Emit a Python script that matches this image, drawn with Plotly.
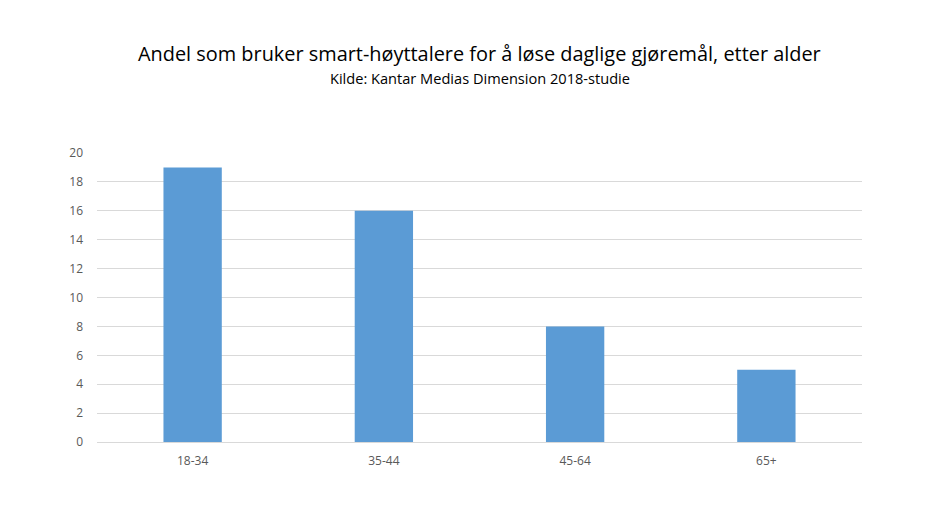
import plotly.graph_objects as go

age_groups = ["18-34", "35-44", "45-64", "65+"]
share = [19, 16, 8, 5]
y_ticks = [0, 2, 4, 6, 8, 10, 12, 14, 16, 18, 20]

fig = go.Figure()
fig.add_trace(go.Bar(
    x=age_groups,
    y=share,
    marker=dict(color="#5b9bd5", line=dict(width=0)),
    width=0.305,
))

# title + source line above the plot
fig.add_annotation(
    text="Andel som bruker smart-høyttalere for å løse daglige gjøremål, etter alder",
    xref="paper", yref="paper", x=0.5, y=1.0, xanchor="center", yanchor="bottom",
    yshift=84, showarrow=False,
    font=dict(family="Open Sans", size=19.9, color="#000000"),
)
fig.add_annotation(
    text="Kilde: Kantar Medias Dimension 2018-studie",
    xref="paper", yref="paper", x=0.5, y=1.0, xanchor="center", yanchor="bottom",
    yshift=63, showarrow=False,
    font=dict(family="Open Sans", size=14.6, color="#000000"),
)

fig.update_layout(
    width=937,
    height=527,
    margin=dict(l=89, r=83, t=145, b=93),
    paper_bgcolor="white",
    plot_bgcolor="white",
    showlegend=False,
    xaxis=dict(
        showgrid=False,
        showline=True,
        linecolor="#d9d9d9",
        linewidth=1,
        ticks="",
        tickfont=dict(family="Open Sans", size=12, color="#595959"),
        ticklabelstandoff=8,
    ),
    yaxis=dict(
        range=[0, 20],
        tickvals=y_ticks,
        showgrid=True,
        gridcolor="#d9d9d9",
        gridwidth=1,
        zeroline=False,
        showline=False,
        ticks="",
        tickfont=dict(family="Open Sans", size=12, color="#595959"),
        ticklabelstandoff=13,
    ),
)

fig.write_html("out.html")
